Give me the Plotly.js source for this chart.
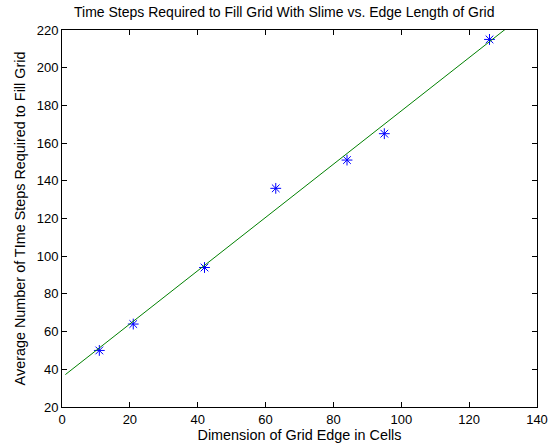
<!DOCTYPE html>
<html>
<head>
<meta charset="utf-8">
<script src="https://cdn.plot.ly/plotly-3.0.1.min.js"></script>
<style>html,body{margin:0;padding:0;background:#fff;}#chart{width:552px;height:447px;}</style>
</head>
<body>
<div id="chart"></div>
<script>
// Measured points
var edgeLengths = [11, 21, 42, 63, 84, 95, 126];
var avgSteps = [50, 64, 94, 136, 151, 165, 215];
// Fitted line endpoints
var fitX = [1, 140];
var fitY = [37.2, 233.6];
// Tick labels
var xTicks = [0, 20, 40, 60, 80, 100, 120, 140];
var yTicks = [20, 40, 60, 80, 100, 120, 140, 160, 180, 200, 220];

var fam = 'Liberation Sans, Arial, Helvetica, sans-serif';
var font = {family: fam, size: 13, color: '#000'};
var labelFont = {family: fam, size: 14.4, color: '#000'};
var titleFont = {family: fam, size: 14, color: '#000'};

var traces = [
  {x: edgeLengths, y: avgSteps, mode: 'markers', type: 'scatter',
   marker: {symbol: 'asterisk-open', size: 9, color: '#0000ff', line: {color: '#0000ff', width: 1}},
   showlegend: false},
  {x: fitX, y: fitY, mode: 'lines', type: 'scatter',
   line: {color: '#008000', width: 1}, showlegend: false}
];

var axisCommon = {
  showgrid: false, zeroline: false, showline: true, linecolor: '#000', linewidth: 1,
  mirror: 'ticks', ticks: 'inside', ticklen: 5, tickcolor: '#000', tickwidth: 1,
  tickfont: font
};

var layout = {
  width: 552, height: 447,
  margin: {l: 62, r: 15, t: 30, b: 40},
  paper_bgcolor: '#fff', plot_bgcolor: '#fff',
  font: font,
  title: {text: 'Time Steps Required to Fill Grid With Slime vs. Edge Length of Grid',
          font: titleFont, x: 0.515, xanchor: 'center', y: 0.973, yanchor: 'middle'},
  xaxis: Object.assign({}, axisCommon, {range: [0, 140], tickvals: xTicks, ticktext: xTicks.map(String),
          title: {text: 'Dimension of Grid Edge in Cells', font: labelFont, standoff: 0}}),
  yaxis: Object.assign({}, axisCommon, {range: [20, 220], tickvals: yTicks, ticktext: yTicks.map(String),
          title: {text: 'Average Number of TIme Steps Required to Fill Grid', font: labelFont, standoff: 7}}),
  showlegend: false
};

Plotly.newPlot('chart', traces, layout, {displayModeBar: false, staticPlot: true});
</script>
</body>
</html>
